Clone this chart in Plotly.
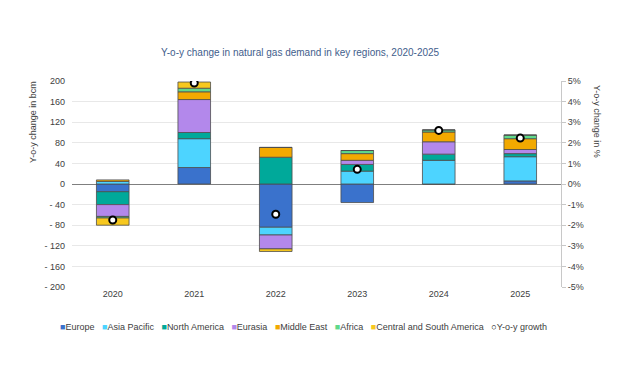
import plotly.graph_objects as go

# Year-on-year change in natural gas demand (bcm) by region
years = ["2020", "2021", "2022", "2023", "2024", "2025"]
europe = [-15, 32, -84, -36, 0, 6]
asia_pacific = [5, 56, -15, 25, 46, 47]
north_america = [-25, 12, 52, 13, 12, 6]
eurasia = [-23, 64, -27, 8, 24, 8]
middle_east = [3, 15, 19, 13, 19, 21]
africa = [-3, 7, 0, 6, 4, 7]
central_south_america = [-14, 12, -5, 0, 0, 0]
yoy_growth_pct = [-1.75, 4.9, -1.47, 0.71, 2.6, 2.23]

series_names = ["Europe", "Asia Pacific", "North America", "Eurasia",
                "Middle East", "Africa", "Central and South America"]
series_values = [europe, asia_pacific, north_america, eurasia,
                 middle_east, africa, central_south_america]
series_colors = ["#3A72CC", "#4DD4FF", "#00A99A", "#B388EB",
                 "#F2A900", "#5FD98A", "#F7C81E"]

left_ticks = [200, 160, 120, 80, 40, 0, -40, -80, -120, -160, -200]
left_ticktext = ["200", "160", "120", "80", "40", "0", "- 40", "- 80",
                 "- 120", "- 160", "- 200"]
right_ticks = [5, 4, 3, 2, 1, 0, -1, -2, -3, -4, -5]
right_ticktext = ["5%", "4%", "3%", "2%", "1%", "0%", "-1%", "-2%",
                  "-3%", "-4%", "-5%"]

FONT = "Liberation Sans, Arial, sans-serif"
TEXT = "#404040"

fig = go.Figure()
for name, vals, col in zip(series_names, series_values, series_colors):
    fig.add_trace(go.Bar(
        x=years, y=vals, name=name,
        marker=dict(color=col, line=dict(color="#4d4d4d", width=0.8)),
        showlegend=False,
    ))

fig.add_trace(go.Scatter(
    x=years, y=yoy_growth_pct, name="Y-o-y growth", yaxis="y2",
    mode="markers",
    marker=dict(symbol="circle", size=7, color="white",
                line=dict(color="black", width=2)),
    showlegend=False,
))

fig.update_layout(
    width=626, height=387,
    margin=dict(l=72, r=65, t=81, b=100),
    paper_bgcolor="white", plot_bgcolor="white",
    barmode="relative", bargap=0.6,
    font=dict(family=FONT, size=9, color=TEXT),
    xaxis=dict(showgrid=False, showline=False, ticks="",
               tickfont=dict(size=9, color=TEXT)),
    yaxis=dict(range=[-200, 200], tickvals=left_ticks, ticktext=left_ticktext,
               showgrid=True, gridcolor="#e8e8e8", gridwidth=1,
               zeroline=True, zerolinecolor="#7f7f7f", zerolinewidth=1,
               showline=False, ticks="", ticklabelstandoff=6,
               tickfont=dict(size=9, color=TEXT)),
    yaxis2=dict(range=[-5, 5], overlaying="y", side="right",
                tickvals=right_ticks, ticktext=right_ticktext,
                showgrid=False, zeroline=False,
                showline=True, linecolor="#c8c8c8", linewidth=1,
                ticks="outside", ticklen=4, tickcolor="#c8c8c8",
                tickfont=dict(size=9, color=TEXT)),
)

annotations = [
    dict(text="Y-o-y change in natural gas demand in key regions, 2020-2025",
         x=300, y=387 - 52,
         font=dict(size=10, color="#3F5E8C", family=FONT)),
    dict(text="Y-o-y change in bcm", textangle=-90,
         x=33, y=387 - 122,
         font=dict(size=9, color=TEXT, family=FONT)),
    dict(text="Y-o-y change in %", textangle=90,
         x=597, y=387 - 121,
         font=dict(size=9, color=TEXT, family=FONT)),
]

# Legend row built from coloured square glyphs
sp = "\u00a0\u00a0\u00a0"
parts = [f'<span style="color:{c}">■</span>{n}'
         for n, c in zip(series_names, series_colors)]
parts.append('<b><span style="color:black">○</span></b>Y-o-y growth')
annotations.append(dict(text=sp.join(parts), x=303, y=387 - 327,
                        font=dict(size=9, color=TEXT, family=FONT)))

# Position annotations in pixel terms relative to the page
for a in annotations:
    a["xref"] = "paper"
    a["yref"] = "paper"
    a["showarrow"] = False
    a["xanchor"] = "center"
    a["yanchor"] = "middle"
    a["x"] = (a["x"] - 72) / (626 - 72 - 65)
    a["y"] = (a["y"] - 100) / (387 - 81 - 100)
fig.update_layout(annotations=annotations)

fig.write_html("out.html")
